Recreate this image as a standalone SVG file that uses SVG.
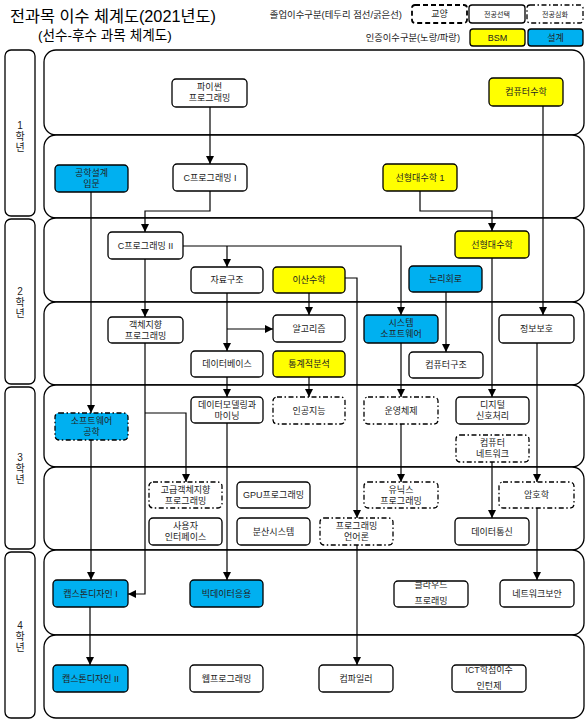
<svg xmlns="http://www.w3.org/2000/svg" width="586" height="720" viewBox="0 0 586 720">
<style>
text{font-family:"Liberation Sans","Noto Sans CJK KR",sans-serif;fill:#222}
.t{font-size:9px;text-anchor:middle}
.panel{fill:#fff;stroke:#000;stroke-width:1.3}
.yr{fill:#fff;stroke:#000;stroke-width:1.3}
.n{fill:#fff;stroke:#000;stroke-width:1.3}
.y{fill:#ffff00}
.b{fill:#00b0f0}
.dd{stroke-dasharray:5 2.5 1.5 2.5}
.ds{stroke-dasharray:5 3;stroke-width:1.8}
.yl{font-size:10px;text-anchor:middle}
.c{fill:none;stroke:#000;stroke-width:1.2}
</style>
<defs>
<marker id="ah" viewBox="0 0 8 8" refX="8" refY="4" markerWidth="8" markerHeight="8" markerUnits="userSpaceOnUse" orient="auto">
<path d="M0,0 L8,4 L0,8 z" fill="#000"/>
</marker>
</defs>
<rect width="586" height="720" fill="#fff"/>

<g id="header">
<text x="10" y="22" style="font-size:16.3px;fill:#000">전과목 이수 체계도(2021년도)</text>
<text x="38" y="40" style="font-size:13.6px;fill:#000">(선수-후수 과목 체계도)</text>
<text x="402" y="18" style="font-size:9.4px;text-anchor:end">졸업이수구분(테두리 점선/굵은선)</text>
<text x="460" y="41" style="font-size:9.3px;text-anchor:end">인증이수구분(노랑/파랑)</text>
<rect x="412" y="5" width="55" height="18" rx="3" class="n ds"/>
<text x="439.5" y="17" class="t">교양</text>
<rect x="469" y="5" width="56" height="18" rx="3" class="n"/>
<text x="497" y="16.5" class="t" style="font-size:7px">전공선택</text>
<rect x="527" y="5" width="56" height="18" rx="3" class="n dd"/>
<text x="555" y="16.5" class="t" style="font-size:7px">전공심화</text>
<rect x="470" y="29" width="55" height="17" rx="3" class="n y"/>
<text x="497.5" y="40.5" class="t">BSM</text>
<rect x="528" y="29" width="55" height="17" rx="3" class="n b"/>
<text x="555.5" y="40.5" class="t">설계</text>
</g>

<g id="panels">
<rect x="44" y="50" width="540" height="85" rx="12" class="panel"/>
<rect x="44" y="135" width="540" height="83" rx="12" class="panel"/>
<rect x="44" y="218" width="540" height="84" rx="12" class="panel"/>
<rect x="44" y="302" width="540" height="83" rx="12" class="panel"/>
<rect x="44" y="385" width="540" height="82" rx="12" class="panel"/>
<rect x="44" y="467" width="540" height="83" rx="12" class="panel"/>
<rect x="44" y="550" width="540" height="85" rx="12" class="panel"/>
<rect x="44" y="635" width="540" height="83" rx="12" class="panel"/>
</g>

<g id="years">
<rect x="5" y="50" width="30" height="166" rx="6" class="yr"/>
<text x="20" y="129" class="yl">1</text><text x="20" y="140" class="yl">학</text><text x="20" y="151" class="yl">년</text>
<rect x="5" y="219" width="30" height="165" rx="6" class="yr"/>
<text x="20" y="295" class="yl">2</text><text x="20" y="306" class="yl">학</text><text x="20" y="317" class="yl">년</text>
<rect x="5" y="387" width="30" height="162" rx="6" class="yr"/>
<text x="20" y="461" class="yl">3</text><text x="20" y="472" class="yl">학</text><text x="20" y="483" class="yl">년</text>
<rect x="5" y="552" width="30" height="166" rx="6" class="yr"/>
<text x="20" y="629" class="yl">4</text><text x="20" y="640" class="yl">학</text><text x="20" y="651" class="yl">년</text>
</g>

<g id="connectors">
<path class="c" d="M210,107 V164" marker-end="url(#ah)"/>
<path class="c" d="M210,191 V211 H145 V232" marker-end="url(#ah)"/>
<path class="c" d="M91,192 V413" marker-end="url(#ah)"/>
<path class="c" d="M420,191 V211 H492 V231" marker-end="url(#ah)"/>
<path class="c" d="M543,106 V315" marker-end="url(#ah)"/>
<path class="c" d="M183,246 H401 V315" marker-end="url(#ah)"/>
<path class="c" d="M227,246 V267" marker-end="url(#ah)"/>
<path class="c" d="M145,259 V317" marker-end="url(#ah)"/>
<path class="c" d="M227,293 V351" marker-end="url(#ah)"/>
<path class="c" d="M227,329 H273" marker-end="url(#ah)"/>
<path class="c" d="M309,293 V315" marker-end="url(#ah)"/>
<path class="c" d="M345,278 H357 V518" marker-end="url(#ah)"/>
<path class="c" d="M357,545 V665" marker-end="url(#ah)"/>
<path class="c" d="M446,292 V352" marker-end="url(#ah)"/>
<path class="c" d="M492,258 V397" marker-end="url(#ah)"/>
<path class="c" d="M537,343 V482" marker-end="url(#ah)"/>
<path class="c" d="M537,508 V580" marker-end="url(#ah)"/>
<path class="c" d="M309,377 V397" marker-end="url(#ah)"/>
<path class="c" d="M227,377 V397" marker-end="url(#ah)"/>
<path class="c" d="M227,423 V580" marker-end="url(#ah)"/>
<path class="c" d="M401,343 V397" marker-end="url(#ah)"/>
<path class="c" d="M401,424 V482" marker-end="url(#ah)"/>
<path class="c" d="M492,462 V518" marker-end="url(#ah)"/>
<path class="c" d="M145,343 V594 H128" marker-end="url(#ah)"/>
<path class="c" d="M145,413 H186 V482" marker-end="url(#ah)"/>
<path class="c" d="M91,440 V580" marker-end="url(#ah)"/>
<path class="c" d="M90,607 V665" marker-end="url(#ah)"/>
</g>

<g id="n_python"><rect x="172" y="79" width="75" height="28" rx="4" class="n"/><text x="209.5" y="90" class="t">파이썬</text><text x="209.5" y="101" class="t">프로그래밍</text></g>
<g id="n_compmath"><rect x="489" y="78" width="74" height="28" rx="4" class="n y"/><text x="526" y="95" class="t">컴퓨터수학</text></g>
<g id="n_engdesign"><rect x="55" y="165" width="73" height="27" rx="4" class="n b"/><text x="91.5" y="176" class="t">공학설계</text><text x="91.5" y="187" class="t">입문</text></g>
<g id="n_c1"><rect x="173" y="164" width="74" height="27" rx="4" class="n"/><text x="210" y="180.5" class="t">C프로그래밍 I</text></g>
<g id="n_linalg1"><rect x="383" y="164" width="74" height="27" rx="4" class="n y"/><text x="420" y="180.5" class="t">선형대수학 1</text></g>
<g id="n_c2"><rect x="108" y="232" width="75" height="27" rx="4" class="n"/><text x="145.5" y="248.5" class="t">C프로그래밍 II</text></g>
<g id="n_linalg"><rect x="455" y="231" width="74" height="27" rx="4" class="n y"/><text x="492" y="247.5" class="t">선형대수학</text></g>
<g id="n_ds"><rect x="191" y="267" width="72" height="26" rx="4" class="n"/><text x="227" y="283" class="t">자료구조</text></g>
<g id="n_discrete"><rect x="273" y="267" width="72" height="26" rx="4" class="n y"/><text x="309" y="283" class="t">이산수학</text></g>
<g id="n_logic"><rect x="409" y="266" width="73" height="26" rx="4" class="n b"/><text x="445.5" y="282" class="t">논리회로</text></g>
<g id="n_oop"><rect x="108" y="317" width="75" height="26" rx="4" class="n"/><text x="145.5" y="328" class="t">객체지향</text><text x="145.5" y="339" class="t">프로그래밍</text></g>
<g id="n_algo"><rect x="273" y="315" width="72" height="27" rx="4" class="n"/><text x="309" y="331.5" class="t">알고리즘</text></g>
<g id="n_syssw"><rect x="364" y="315" width="74" height="28" rx="4" class="n b"/><text x="401" y="326" class="t">시스템</text><text x="401" y="337" class="t">소프트웨어</text></g>
<g id="n_infosec"><rect x="499" y="315" width="75" height="28" rx="4" class="n"/><text x="536.5" y="332" class="t">정보보호</text></g>
<g id="n_db"><rect x="191" y="351" width="72" height="26" rx="4" class="n"/><text x="227" y="367" class="t">데이터베이스</text></g>
<g id="n_stat"><rect x="273" y="351" width="72" height="26" rx="4" class="n y"/><text x="309" y="367" class="t">통계적분석</text></g>
<g id="n_arch"><rect x="409" y="352" width="74" height="26" rx="4" class="n"/><text x="446" y="368" class="t">컴퓨터구조</text></g>
<g id="n_swe"><rect x="55" y="413" width="73" height="27" rx="4" class="n b dd"/><text x="91.5" y="424" class="t">소프트웨어</text><text x="91.5" y="435" class="t">공학</text></g>
<g id="n_dmm"><rect x="191" y="397" width="72" height="26" rx="4" class="n"/><text x="227" y="408" class="t">데이터모델링과</text><text x="227" y="419" class="t">마이닝</text></g>
<g id="n_ai"><rect x="273" y="397" width="72" height="27" rx="4" class="n dd"/><text x="309" y="413.5" class="t">인공지능</text></g>
<g id="n_os"><rect x="364" y="397" width="74" height="27" rx="4" class="n dd"/><text x="401" y="413.5" class="t">운영체제</text></g>
<g id="n_dsp"><rect x="456" y="397" width="73" height="27" rx="4" class="n"/><text x="492.5" y="408" class="t">디지털</text><text x="492.5" y="419" class="t">신호처리</text></g>
<g id="n_net"><rect x="456" y="435" width="73" height="27" rx="4" class="n dd"/><text x="492.5" y="446" class="t">컴퓨터</text><text x="492.5" y="457" class="t">네트워크</text></g>
<g id="n_advoop"><rect x="149" y="482" width="73" height="26" rx="4" class="n dd"/><text x="185.5" y="493" class="t">고급객체지향</text><text x="185.5" y="504" class="t">프로그래밍</text></g>
<g id="n_gpu"><rect x="237" y="482" width="73" height="26" rx="4" class="n"/><text x="273.5" y="498" class="t">GPU프로그래밍</text></g>
<g id="n_unix"><rect x="364" y="482" width="74" height="26" rx="4" class="n dd"/><text x="401" y="493" class="t">유닉스</text><text x="401" y="504" class="t">프로그래밍</text></g>
<g id="n_crypto"><rect x="499" y="482" width="75" height="26" rx="4" class="n dd"/><text x="536.5" y="498" class="t">암호학</text></g>
<g id="n_ui"><rect x="149" y="518" width="73" height="27" rx="4" class="n"/><text x="185.5" y="529" class="t">사용자</text><text x="185.5" y="540" class="t">인터페이스</text></g>
<g id="n_dist"><rect x="237" y="518" width="73" height="27" rx="4" class="n"/><text x="273.5" y="534.5" class="t">분산시스템</text></g>
<g id="n_pl"><rect x="320" y="518" width="73" height="27" rx="4" class="n dd"/><text x="356.5" y="529" class="t">프로그래밍</text><text x="356.5" y="540" class="t">언어론</text></g>
<g id="n_comm"><rect x="455" y="518" width="74" height="27" rx="4" class="n"/><text x="492" y="534.5" class="t">데이터통신</text></g>
<g id="n_cap1"><rect x="53" y="580" width="75" height="27" rx="4" class="n b"/><text x="90.5" y="596.5" class="t">캡스톤디자인 I</text></g>
<g id="n_bigdata"><rect x="190" y="580" width="73" height="27" rx="4" class="n b"/><text x="226.5" y="596.5" class="t">빅데이터응용</text></g>
<g id="n_cloud"><rect x="394" y="581" width="74" height="26" rx="4" class="n"/><text x="431" y="588" class="t">클라우드</text><text x="431" y="604" class="t">프로래밍</text></g>
<g id="n_netsec"><rect x="500" y="580" width="74" height="27" rx="4" class="n"/><text x="537" y="596.5" class="t">네트워크보안</text></g>
<g id="n_cap2"><rect x="53" y="665" width="75" height="27" rx="4" class="n b"/><text x="90.5" y="681.5" class="t">캡스톤디자인 II</text></g>
<g id="n_web"><rect x="190" y="665" width="73" height="27" rx="4" class="n"/><text x="226.5" y="681.5" class="t">웹프로그래밍</text></g>
<g id="n_compiler"><rect x="319" y="665" width="74" height="27" rx="4" class="n"/><text x="356" y="681.5" class="t">컴파일러</text></g>
<g id="n_ict"><rect x="452" y="665" width="74" height="27" rx="4" class="n"/><text x="489" y="673" class="t">ICT학점이수</text><text x="489" y="689" class="t">인턴제</text></g>
</svg>
